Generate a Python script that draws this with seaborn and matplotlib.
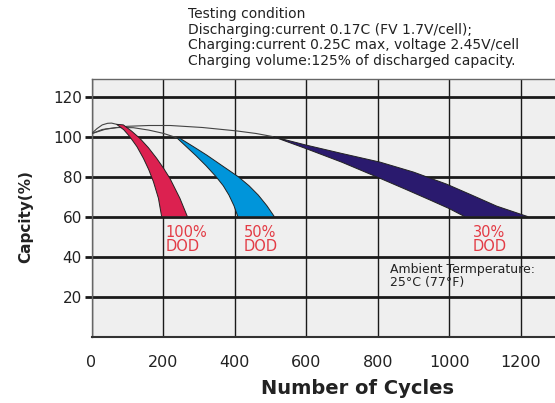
import matplotlib
matplotlib.use('Agg')
import matplotlib.pyplot as plt
import numpy as np
import pandas as pd
import seaborn as sns

sns.set_theme(style='whitegrid')
plt.rcParams['font.family'] = ['DejaVu Sans']

# --- data ---
# thin lead-in curves (cycles, capacity %)
lead_100_x = [0, 15, 30, 45, 56, 70]
lead_100_y = [101.5, 104.0, 105.9, 106.7, 106.8, 106.2]
lead_50_x = [0, 30, 70, 117, 160, 200, 238]
lead_50_y = [101.5, 103.6, 104.6, 104.5, 103.3, 101.7, 99.5]
lead_30_x = [0, 40, 100, 160, 220, 310, 405, 460, 508]
lead_30_y = [101.5, 103.8, 105.2, 105.6, 105.6, 104.6, 102.9, 101.6, 100.0]

# shaded bands: left/lower edge and right/upper edge down to 60 %
band_100_lo_x = [70, 90, 107, 127, 145, 160, 173, 187, 196]
band_100_lo_y = [106.2, 103.5, 100.0, 95.0, 89.2, 83.5, 77.5, 69.2, 60.0]
band_100_hi_x = [89, 112, 135, 159, 182, 201, 219, 247, 268]
band_100_hi_y = [105.9, 102.8, 99.2, 94.5, 89.2, 84.3, 79.2, 69.2, 60.0]

band_50_lo_x = [238, 262, 292, 320, 348, 368, 384, 398, 409]
band_50_lo_y = [99.5, 95.5, 90.5, 85.5, 80.0, 75.5, 70.8, 65.5, 60.0]
band_50_hi_x = [247, 285, 322, 365, 410, 440, 466, 490, 511]
band_50_hi_y = [99.2, 95.0, 90.8, 85.5, 80.0, 75.5, 70.8, 65.5, 60.0]

band_30_lo_x = [508, 600, 700, 806, 880, 945, 1000, 1043]
band_30_lo_y = [100.0, 94.0, 87.2, 79.2, 73.5, 68.4, 64.0, 60.0]
band_30_hi_x = [508, 600, 700, 806, 900, 992, 1060, 1132, 1220]
band_30_hi_y = [100.0, 95.8, 91.6, 87.3, 82.3, 76.3, 71.0, 65.3, 60.0]

dod_labels = ['100%\nDOD', '50%\nDOD', '30%\nDOD']
dod_label_x = [207, 426, 1066]
dod_colors = ['#dc2150', '#0095da', '#2a1a6e']

x_ticks = [0, 200, 400, 600, 800, 1000, 1200]
y_ticks = [20, 40, 60, 80, 100, 120]

header = ['Testing condition',
          'Discharging:current 0.17C (FV 1.7V/cell);',
          'Charging:current 0.25C max, voltage 2.45V/cell',
          'Charging volume:125% of discharged capacity.']

# --- figure ---
fig = plt.figure(figsize=(5.55, 4.03), dpi=100)
fig.patch.set_facecolor('white')
ax = fig.add_axes([91.5 / 555, 66.3 / 403, 463.5 / 555, 257.7 / 403])
ax.set_facecolor('#efefef')
ax.set_axisbelow(True)

# lead-in lines
leads = pd.concat([
    pd.DataFrame({'cycles': lead_100_x, 'cap': lead_100_y, 'dod': '100'}),
    pd.DataFrame({'cycles': lead_50_x, 'cap': lead_50_y, 'dod': '50'}),
    pd.DataFrame({'cycles': lead_30_x, 'cap': lead_30_y, 'dod': '30'}),
])
sns.lineplot(data=leads, x='cycles', y='cap', units='dod', estimator=None,
             sort=False, color='#444444', lw=0.8, ax=ax, zorder=3, legend=False)

bands = [
    (band_100_lo_x, band_100_lo_y, band_100_hi_x, band_100_hi_y),
    (band_50_lo_x, band_50_lo_y, band_50_hi_x, band_50_hi_y),
    (band_30_lo_x, band_30_lo_y, band_30_hi_x, band_30_hi_y),
]
for (lx, ly, hx, hy), c in zip(bands, dod_colors):
    ax.fill(np.r_[lx, hx[::-1]], np.r_[ly, hy[::-1]], facecolor=c,
            edgecolor='#222222', lw=0.7, zorder=4)

for lab, lx in zip(dod_labels, dod_label_x):
    ax.text(lx, 56, lab, color='#e33b45', fontsize=10.5, ha='left', va='top',
            linespacing=0.92, zorder=5)

ax.text(834, 37, 'Ambient Termperature:\n25\u00b0C (77\u00b0F)', color='#222222',
        fontsize=9, ha='left', va='top', linespacing=1.0, zorder=5)

ax.set_xlim(0, 1295)
ax.set_ylim(0, 128.85)
ax.set_xticks(x_ticks)
ax.set_yticks(y_ticks)
ax.grid(axis='y', color='#1a1a1a', lw=2)
ax.grid(axis='x', color='#1a1a1a', lw=1)
ax.tick_params(axis='y', length=5, width=2, color='#1a1a1a', pad=2,
               labelsize=11, labelcolor='#222222', left=True)
ax.tick_params(axis='x', length=0, pad=13, labelsize=11.5, labelcolor='#222222')

for s in ['left', 'top']:
    ax.spines[s].set_color('#666666')
    ax.spines[s].set_linewidth(1)
ax.spines['bottom'].set_color('#333333')
ax.spines['bottom'].set_linewidth(1.5)
ax.spines['right'].set_visible(False)

ax.set_xlabel('Number of Cycles', fontsize=14, fontweight='bold', color='#222222')
ax.xaxis.set_label_coords(0.573, -0.165)
ax.set_ylabel('Capcity(%)', fontsize=11, fontweight='bold', color='#222222')
ax.yaxis.set_label_coords(-0.126, 0.466)

for i, line in enumerate(header):
    fig.text(188 / 555, 1 - [14, 30, 45.5, 61][i] / 403, line, fontsize=10,
             color='#222222', ha='left', va='center')

fig.savefig('out.png', dpi=100)
